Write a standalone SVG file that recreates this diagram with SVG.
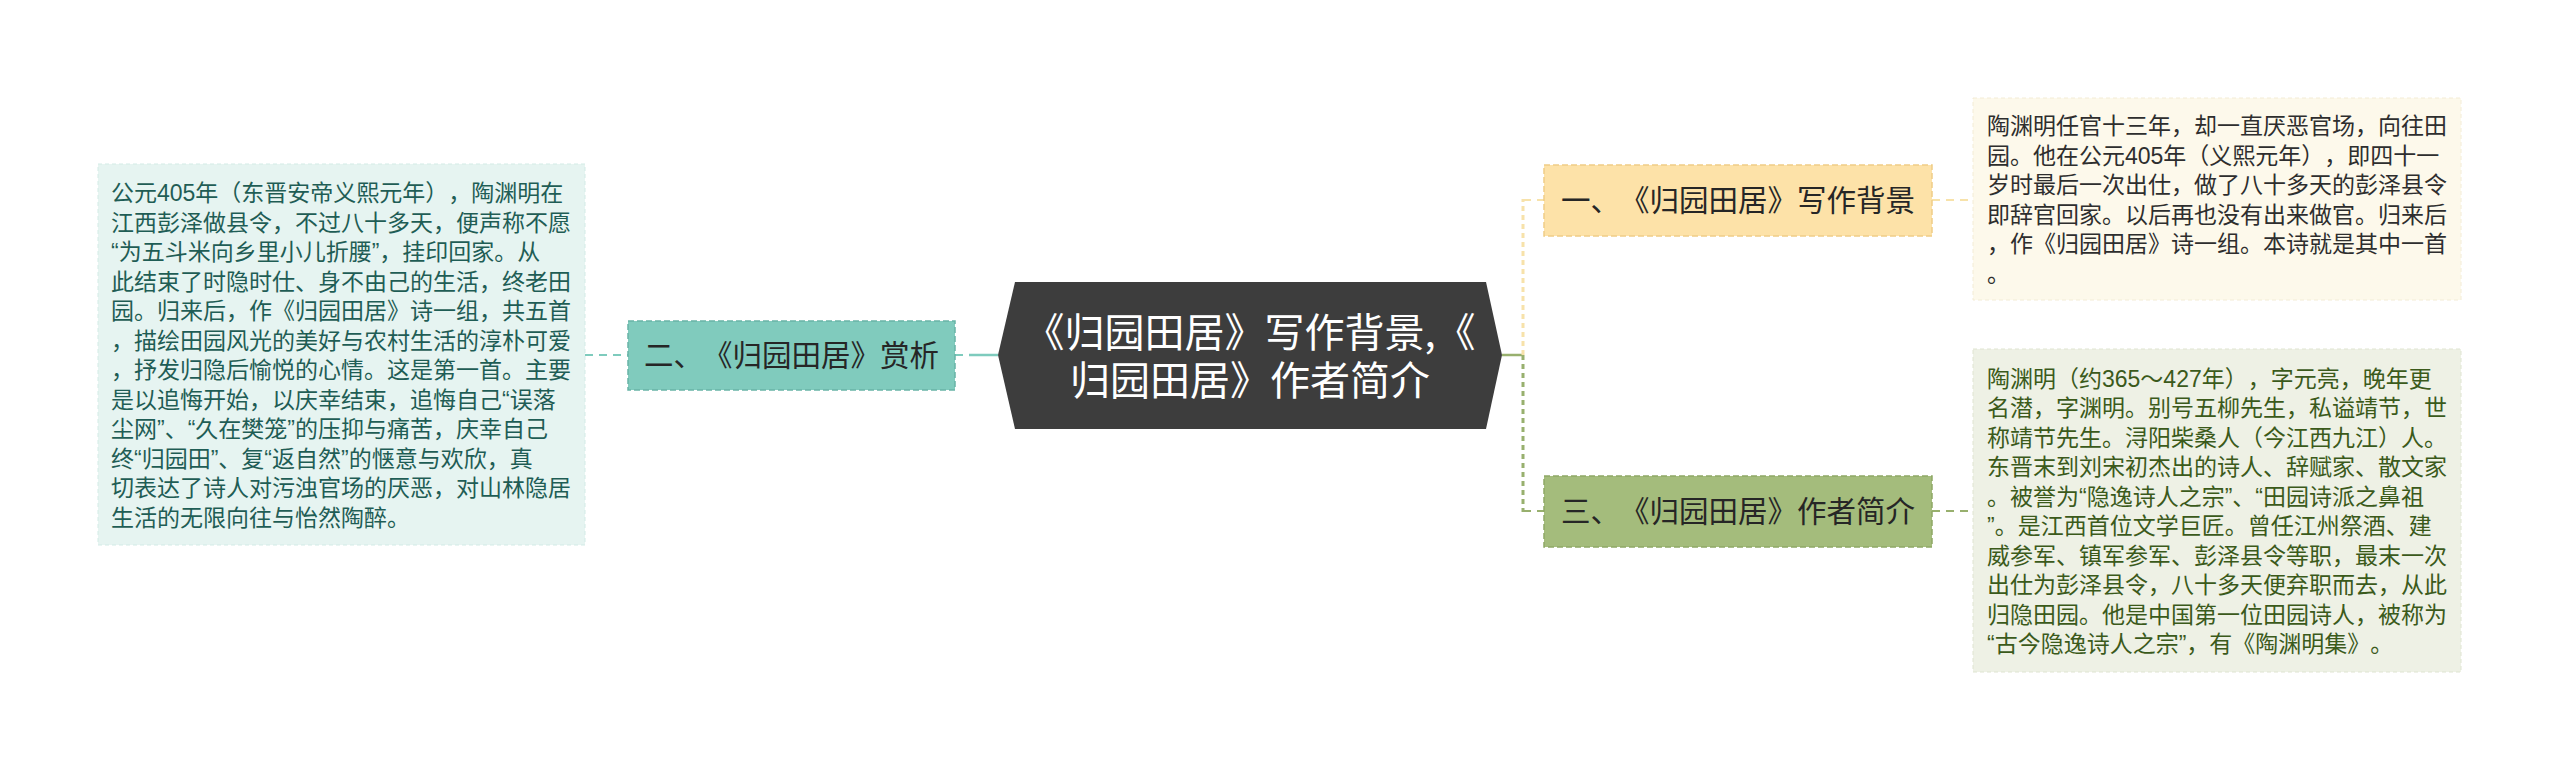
<svg xmlns="http://www.w3.org/2000/svg" width="2560" height="771" viewBox="0 0 2560 771">
<style>
svg, text { text-spacing-trim: space-all; }
text { font-family: "Noto Sans CJK SC", "Noto Sans", sans-serif; }
.detail text { font-family: "Liberation Sans", "Noto Sans CJK SC", sans-serif; }
.detail { font-size: 23px; }
.nt { font-size: 29.5px; fill: #262626; text-anchor: middle; }
.ct { font-size: 40px; fill: #ffffff; text-anchor: middle; }
.hd { fill: none; stroke-width: 2; stroke-dasharray: 8 6; }
.vd { fill: none; stroke-width: 3; stroke-dasharray: 5 4; }
.solid { fill: none; stroke-width: 2.5; }
.nodebox { stroke-width: 1.5; stroke-dasharray: 6 3; }
.detbox { stroke-width: 1; stroke-dasharray: 4 3; }
</style>
<rect width="2560" height="771" fill="#ffffff"/>

<g id="connectors">
  <line class="hd" x1="585" y1="355" x2="628" y2="355" stroke="#7ecbbd"/>
  <line class="hd" x1="955" y1="355" x2="969" y2="355" stroke="#7ecbbd"/>
  <line class="solid" x1="969" y1="355" x2="998" y2="355" stroke="#7ecbbd"/>
  <line class="solid" x1="1502" y1="355" x2="1523" y2="355" stroke="#98b06e"/>
  <line class="vd" x1="1523" y1="355" x2="1523" y2="199" stroke="#f7e2aa"/>
  <line class="hd" x1="1523" y1="200" x2="1544" y2="200" stroke="#f7e2aa"/>
  <line class="vd" x1="1523" y1="355" x2="1523" y2="512" stroke="#98b06e"/>
  <line class="hd" x1="1523" y1="511" x2="1544" y2="511" stroke="#98b06e"/>
  <line class="hd" x1="1932" y1="200" x2="1973" y2="200" stroke="#f7e2aa"/>
  <line class="hd" x1="1932" y1="511" x2="1973" y2="511" stroke="#98b06e"/>
</g>

<g id="center">
  <polygon points="1015,282 1486,282 1502,355 1486,429 1015,429 998,355" fill="#3d3d3d"/>
  <text class="ct" x="1250" y="347">《归园田居》写作背景,《</text>
  <text class="ct" x="1250" y="395">归园田居》作者简介</text>
</g>

<g id="node-2">
  <rect class="nodebox" x="628" y="321" width="327" height="69" fill="#80cbbd" stroke="#68b4a6"/>
  <text class="nt" x="791.5" y="366">二、《归园田居》赏析</text>
</g>

<g id="node-1">
  <rect class="nodebox" x="1544" y="165" width="388" height="71" fill="#fde2a8" stroke="#efcd86"/>
  <text class="nt" x="1738" y="211">一、《归园田居》写作背景</text>
</g>

<g id="node-3">
  <rect class="nodebox" x="1544" y="476" width="388" height="71" fill="#a4bc7c" stroke="#8ea865"/>
  <text class="nt" x="1738" y="522">三、《归园田居》作者简介</text>
</g>

<g id="detail-2">
  <rect class="detbox" x="98" y="164" width="487" height="381" fill="#e6f4f1" stroke="#d3ebe6"/>
  <g class="detail" fill="#1f5d55">
    <text x="111" y="201">公元405年（东晋安帝义熙元年），陶渊明在</text>
    <text x="111" y="230.5">江西彭泽做县令，不过八十多天，便声称不愿</text>
    <text x="111" y="260">“为五斗米向乡里小儿折腰”，挂印回家。从</text>
    <text x="111" y="289.5">此结束了时隐时仕、身不由己的生活，终老田</text>
    <text x="111" y="319">园。归来后，作《归园田居》诗一组，共五首</text>
    <text x="111" y="348.5">，描绘田园风光的美好与农村生活的淳朴可爱</text>
    <text x="111" y="378">，抒发归隐后愉悦的心情。这是第一首。主要</text>
    <text x="111" y="407.5">是以追悔开始，以庆幸结束，追悔自己“误落</text>
    <text x="111" y="437">尘网”、“久在樊笼”的压抑与痛苦，庆幸自己</text>
    <text x="111" y="466.5">终“归园田”、复“返自然”的惬意与欢欣，真</text>
    <text x="111" y="496">切表达了诗人对污浊官场的厌恶，对山林隐居</text>
    <text x="111" y="525.5">生活的无限向往与怡然陶醉。</text>
  </g>
</g>

<g id="detail-1">
  <rect class="detbox" x="1973" y="98" width="488" height="202" fill="#fdf9eb" stroke="#f3ecd6"/>
  <g class="detail" fill="#2e2e2e">
    <text x="1987" y="134">陶渊明任官十三年，却一直厌恶官场，向往田</text>
    <text x="1987" y="163.5">园。他在公元405年（义熙元年），即四十一</text>
    <text x="1987" y="193">岁时最后一次出仕，做了八十多天的彭泽县令</text>
    <text x="1987" y="222.5">即辞官回家。以后再也没有出来做官。归来后</text>
    <text x="1987" y="252">，作《归园田居》诗一组。本诗就是其中一首</text>
    <text x="1987" y="281.5">。</text>
  </g>
</g>

<g id="detail-3">
  <rect class="detbox" x="1973" y="349" width="488" height="323" fill="#eef1e5" stroke="#dfe4d1"/>
  <g class="detail" fill="#3b5a1b">
    <text x="1987" y="386.5">陶渊明（约365～427年），字元亮，晚年更</text>
    <text x="1987" y="416">名潜，字渊明。别号五柳先生，私谥靖节，世</text>
    <text x="1987" y="445.5">称靖节先生。浔阳柴桑人（今江西九江）人。</text>
    <text x="1987" y="475">东晋末到刘宋初杰出的诗人、辞赋家、散文家</text>
    <text x="1987" y="504.5">。被誉为“隐逸诗人之宗”、“田园诗派之鼻祖</text>
    <text x="1987" y="534">”。是江西首位文学巨匠。曾任江州祭酒、建</text>
    <text x="1987" y="563.5">威参军、镇军参军、彭泽县令等职，最末一次</text>
    <text x="1987" y="593">出仕为彭泽县令，八十多天便弃职而去，从此</text>
    <text x="1987" y="622.5">归隐田园。他是中国第一位田园诗人，被称为</text>
    <text x="1987" y="652">“古今隐逸诗人之宗”，有《陶渊明集》。</text>
  </g>
</g>
</svg>
